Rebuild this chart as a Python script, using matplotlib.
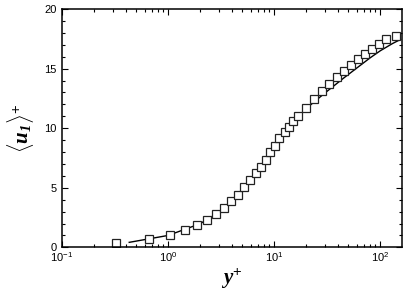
import matplotlib
matplotlib.use('Agg')
import matplotlib.pyplot as plt
from matplotlib.ticker import LogLocator, MultipleLocator, NullFormatter

plt.rcParams['font.family'] = ['Liberation Sans', 'DejaVu Sans']
plt.rcParams['mathtext.fontset'] = 'custom'
plt.rcParams['mathtext.rm'] = 'Liberation Sans'
plt.rcParams['mathtext.it'] = 'Liberation Serif:italic'
plt.rcParams['mathtext.bf'] = 'Liberation Serif:italic:bold'

# DNS / reference data (squares)
yplus_sym = [0.323, 0.665, 1.04, 1.43, 1.87, 2.35, 2.83, 3.36, 3.92, 4.53,
             5.19, 5.91, 6.69, 7.43, 8.28, 9.19, 10.1, 11.2, 12.5, 13.8,
             15.0, 16.7, 20.0, 23.6, 28.0, 33.1, 38.7, 45.2, 53.1, 62.2,
             72.3, 84.3, 97.9, 114.0, 141.6]
u_sym = [0.33, 0.67, 1.05, 1.42, 1.84, 2.27, 2.79, 3.27, 3.86, 4.41,
         5.08, 5.64, 6.20, 6.77, 7.32, 7.99, 8.53, 9.16, 9.66, 10.14,
         10.59, 11.0, 11.72, 12.43, 13.10, 13.70, 14.26, 14.78, 15.30, 15.78,
         16.26, 16.67, 17.10, 17.47, 17.77]

# model profile (solid line)
yplus_line = [0.43, 1.0, 2.0, 3.0, 4.0, 5.0, 6.0, 7.0, 8.0, 10.0, 12.0,
              15.0, 20.0, 30.0, 45.0, 60.0, 80.0, 100.0, 130.0, 155.0]
u_line = [0.42, 1.0, 1.98, 2.93, 3.82, 4.7, 5.5, 6.2, 6.85, 8.4, 9.4,
          10.5, 11.65, 12.95, 14.2, 15.05, 15.9, 16.5, 17.1, 17.45]

fig = plt.figure(figsize=(4.15, 2.91), dpi=100)
ax = fig.add_axes([0.1494, 0.150, 0.8193, 0.819])

ax.plot(yplus_line, u_line, color='black', lw=1.0)
ax.plot(yplus_sym, u_sym, ls='none', marker='s', ms=5.2, mfc='white',
        mec='#222222', mew=0.9)

ax.set_xscale('log')
ax.set_xlim(0.1, 160)
ax.set_ylim(0, 20)
ax.xaxis.set_major_locator(LogLocator(base=10, numticks=10))
ax.xaxis.set_minor_locator(LogLocator(base=10, subs=range(2, 10), numticks=10))
ax.xaxis.set_minor_formatter(NullFormatter())
ax.yaxis.set_major_locator(MultipleLocator(5))
ax.yaxis.set_minor_locator(MultipleLocator(1))

ax.tick_params(which='both', direction='in', top=True, right=True, labelsize=8,
               width=0.8)
ax.tick_params(axis='x', pad=2)
ax.tick_params(axis='y', pad=4)
ax.tick_params(which='major', length=4)
ax.tick_params(which='minor', length=2)
for s in ax.spines.values():
    s.set_linewidth(1.1)

ax.set_xlabel(r'$\mathbf{y}^{+}$', fontsize=15, labelpad=2)
ax.set_ylabel(r'$\langle \mathbf{u}_{\mathbf{1}} \rangle^{+}$', fontsize=15, labelpad=6)

fig.savefig('out.png', dpi=100)
